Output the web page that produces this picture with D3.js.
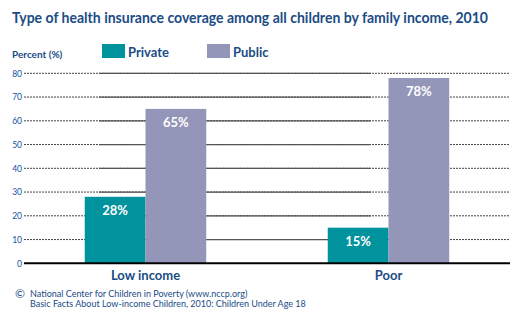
<!DOCTYPE html>
<html>
<head>
<meta charset="utf-8">
<script src="https://cdn.jsdelivr.net/npm/d3@7"></script>
<style>
  body { margin: 0; background: #fff; }
  svg { display: block; }
</style>
</head>
<body>
<div id="chart"></div>
<script>
// chart data
const categories = ["Low income", "Poor"];
const seriesNames = ["Private", "Public"];
const privateValues = [28, 15];
const publicValues = [65, 78];
const yTicks = [0, 10, 20, 30, 40, 50, 60, 70, 80];

const colors = { Private: "#00939d", Public: "#9396b8" };
const darkBlue = "#1b4c86";

const width = 525, height = 325;
const plotLeft = 24, plotRight = 510, plotTop = 73.3, plotBottom = 263.3;

const svg = d3.select("#chart").append("svg")
  .attr("width", width)
  .attr("height", height)
  .style("font-family", "Lato, 'Open Sans', sans-serif");

// title
svg.append("text")
  .attr("x", 12).attr("y", 23)
  .attr("textLength", 476).attr("lengthAdjust", "spacingAndGlyphs")
  .style("font-size", "14.5px").style("font-weight", "bold")
  .style("fill", darkBlue)
  .text("Type of health insurance coverage among all children by family income, 2010");

svg.append("text")
  .attr("x", 12).attr("y", 58)
  .style("font-size", "10px").style("font-weight", "bold")
  .style("fill", darkBlue)
  .text("Percent (%)");

// legend
const legendX = [102, 207];
seriesNames.forEach((s, i) => {
  svg.append("rect")
    .attr("x", legendX[i]).attr("y", 44)
    .attr("width", 23).attr("height", 14)
    .attr("fill", colors[s]);
  svg.append("text")
    .attr("x", legendX[i] + 26).attr("y", 56.5)
    .style("font-size", "13px").style("font-weight", "bold")
    .style("fill", darkBlue)
    .text(s);
});

// scales
const x = d3.scaleBand()
  .domain(categories)
  .range([plotLeft, plotRight])
  .paddingInner(0.5)
  .paddingOuter(0.25);

const xs = d3.scaleBand()
  .domain(seriesNames)
  .range([0, x.bandwidth()]);

const y = d3.scaleLinear()
  .domain([0, 80])
  .range([plotBottom, plotTop]);

// gridlines: dashed at the sides, solid in the middle
const grid = svg.append("g");
yTicks.filter(d => d > 0).forEach(t => {
  grid.append("line")
    .attr("x1", plotLeft).attr("x2", plotRight)
    .attr("y1", y(t)).attr("y2", y(t))
    .attr("stroke", "#444").attr("stroke-width", 1)
    .attr("stroke-dasharray", "2,1");
  grid.append("line")
    .attr("x1", 99).attr("x2", 371)
    .attr("y1", y(t)).attr("y2", y(t))
    .attr("stroke", "#555").attr("stroke-width", 1.3);
});

// y axis labels
const yAxis = svg.append("g")
  .attr("transform", "translate(" + plotLeft + ",0)")
  .call(d3.axisLeft(y).tickValues(yTicks).tickSize(0).tickPadding(2));
yAxis.select(".domain").remove();
yAxis.selectAll("text")
  .style("font-size", "8.5px")
  .style("font-family", "Lato, sans-serif")
  .style("fill", "#0f55a0");

// bars
const rows = categories.map((c, i) => ({
  category: c,
  values: [
    { key: "Private", value: privateValues[i] },
    { key: "Public", value: publicValues[i] }
  ]
}));

const groups = svg.selectAll(".group")
  .data(rows)
  .enter()
  .append("g")
  .attr("class", "group")
  .attr("transform", d => "translate(" + x(d.category) + ",0)");

groups.selectAll("rect")
  .data(d => d.values)
  .enter()
  .append("rect")
  .attr("x", d => xs(d.key))
  .attr("y", d => y(d.value))
  .attr("width", xs.bandwidth())
  .attr("height", d => y(0) - y(d.value))
  .attr("fill", d => colors[d.key]);

groups.selectAll(".val")
  .data(d => d.values)
  .enter()
  .append("text")
  .attr("class", "val")
  .attr("x", d => xs(d.key) + xs.bandwidth() / 2)
  .attr("y", d => y(d.value) + 18)
  .attr("text-anchor", "middle")
  .style("font-size", "13px").style("font-weight", "bold")
  .style("fill", "#fff")
  .text(d => d.value + "%");

// x axis
svg.append("line")
  .attr("x1", plotLeft).attr("x2", plotRight)
  .attr("y1", plotBottom).attr("y2", plotBottom)
  .attr("stroke", "#000").attr("stroke-width", 2);

svg.selectAll(".cat")
  .data(categories)
  .enter()
  .append("text")
  .attr("class", "cat")
  .attr("x", d => x(d) + x.bandwidth() / 2)
  .attr("y", 280)
  .attr("text-anchor", "middle")
  .style("font-size", "13px").style("font-weight", "bold")
  .style("fill", darkBlue)
  .text(d => d);

// source
svg.append("text")
  .attr("x", 15).attr("y", 298)
  .style("font-size", "12px")
  .style("fill", darkBlue)
  .text("\u00A9");
svg.append("text")
  .attr("x", 30).attr("y", 296.5)
  .style("font-size", "9px")
  .style("fill", darkBlue)
  .text("National Center for Children in Poverty (www.nccp.org)");
svg.append("text")
  .attr("x", 30).attr("y", 307)
  .style("font-size", "9px")
  .style("fill", darkBlue)
  .text("Basic Facts About Low-income Children, 2010: Children Under Age 18");
</script>
</body>
</html>
